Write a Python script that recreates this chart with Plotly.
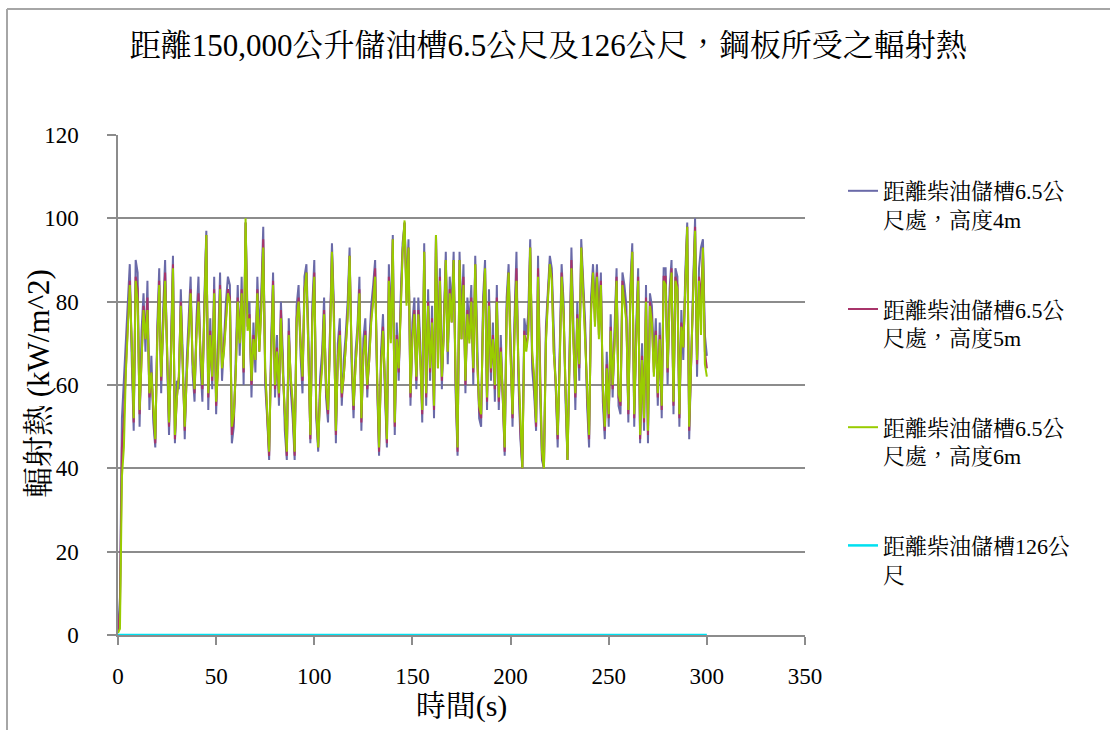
import plotly.graph_objects as go

# Elapsed time (s)
time_s = list(range(0, 301))

# Radiant heat on steel plate (kW/m^2), 6.5 m from tank, height 4 m
heat_4m = [
    0.5, 9, 52, 61, 68, 80, 89, 66, 49, 90,
    87, 50, 73, 82, 68, 85, 54, 67, 51, 45,
    74, 88, 58, 78, 90, 66, 48, 70, 91, 46,
    61, 59, 83, 67, 47, 66, 76, 86, 63, 56,
    76, 86, 65, 56, 81, 97, 54, 76, 59, 86,
    53, 68, 87, 61, 72, 80, 86, 84, 46, 50,
    67, 84, 67, 86, 60, 99, 77, 80, 57, 75,
    63, 86, 72, 82, 98, 60, 52, 42, 70, 87,
    57, 72, 55, 80, 67, 49, 42, 76, 59, 52,
    42, 79, 84, 67, 58, 86, 89, 72, 46, 79,
    90, 52, 44, 62, 68, 81, 57, 51, 73, 94,
    79, 46, 70, 76, 55, 66, 72, 80, 93, 65,
    52, 68, 74, 86, 49, 71, 76, 57, 70, 79,
    84, 90, 60, 43, 68, 77, 58, 45, 89, 74,
    96, 48, 75, 61, 81, 94, 99, 82, 95, 55,
    75, 81, 59, 81, 70, 51, 94, 55, 83, 61,
    79, 52, 96, 68, 88, 59, 76, 92, 65, 86,
    78, 92, 58, 43, 92, 75, 89, 58, 81, 74,
    84, 60, 91, 70, 52, 50, 81, 90, 54, 83,
    61, 75, 56, 84, 54, 72, 55, 43, 81, 89,
    71, 50, 76, 92, 61, 47, 40, 76, 72, 77,
    95, 64, 58, 49, 91, 58, 42, 40, 74, 84,
    91, 88, 72, 57, 45, 68, 89, 80, 56, 42,
    68, 93, 75, 54, 80, 61, 95, 86, 75, 55,
    45, 81, 89, 78, 89, 75, 87, 56, 47, 68,
    50, 77, 57, 74, 88, 55, 53, 87, 84, 79,
    51, 84, 94, 50, 74, 88, 46, 70, 49, 84,
    46, 82, 79, 66, 76, 55, 75, 52, 88, 88,
    60, 83, 90, 53, 88, 86, 50, 78, 66, 87,
    99, 47, 68, 84, 100, 62, 88, 93, 95, 72, 67,
]

# Height 5 m
heat_5m = [
    0.5, 6, 45, 52, 64, 76, 85, 70, 51, 86,
    83, 53, 69, 79, 71, 81, 57, 63, 54, 46,
    71, 85, 61, 75, 87, 69, 50, 67, 89, 47,
    57, 62, 80, 64, 49, 62, 73, 83, 66, 58,
    73, 82, 68, 59, 78, 96, 57, 73, 61, 83,
    55, 65, 84, 64, 69, 77, 83, 81, 48, 52,
    63, 81, 71, 83, 63, 99, 74, 77, 60, 72,
    66, 83, 68, 79, 95, 63, 54, 43, 67, 85,
    59, 69, 57, 78, 63, 51, 43, 73, 61, 55,
    43, 76, 81, 71, 61, 83, 87, 68, 47, 76,
    87, 54, 45, 60, 65, 78, 59, 53, 70, 92,
    76, 48, 67, 73, 57, 62, 69, 77, 91, 68,
    54, 65, 71, 83, 51, 67, 73, 59, 66, 76,
    81, 88, 62, 44, 65, 74, 60, 46, 86, 71,
    95, 50, 72, 63, 78, 92, 99, 80, 93, 57,
    72, 78, 61, 78, 67, 53, 92, 57, 80, 63,
    76, 54, 96, 64, 86, 61, 73, 90, 68, 83,
    75, 90, 61, 44, 90, 71, 86, 60, 78, 71,
    81, 63, 89, 66, 54, 52, 78, 88, 56, 80,
    63, 72, 59, 81, 56, 69, 57, 44, 78, 87,
    68, 52, 73, 88, 64, 49, 40, 73, 69, 73,
    93, 67, 61, 50, 88, 61, 43, 40, 71, 81,
    89, 86, 68, 60, 47, 65, 87, 77, 59, 42,
    65, 90, 71, 57, 77, 64, 93, 83, 72, 58,
    47, 78, 87, 75, 87, 72, 85, 59, 49, 65,
    52, 74, 59, 71, 86, 57, 55, 85, 81, 76,
    53, 81, 92, 52, 71, 86, 47, 67, 51, 81,
    48, 80, 76, 63, 73, 57, 72, 54, 86, 86,
    63, 80, 88, 55, 86, 84, 52, 75, 69, 85,
    98, 49, 65, 81, 98, 65, 86, 80, 93, 68, 64,
]

# Height 6 m
heat_6m = [
    0.5, 1.5, 38, 45, 63, 75, 84, 70, 52, 85,
    80, 54, 68, 78, 71, 78, 58, 63, 55, 47,
    70, 84, 62, 74, 85, 69, 51, 66, 88, 48,
    57, 62, 79, 64, 50, 62, 72, 82, 66, 59,
    72, 80, 68, 60, 77, 96, 58, 72, 62, 82,
    56, 64, 83, 64, 68, 76, 82, 80, 50, 53,
    63, 80, 70, 82, 64, 100, 73, 76, 61, 71,
    66, 82, 68, 78, 93, 64, 55, 44, 66, 84,
    60, 68, 58, 76, 63, 52, 44, 72, 62, 56,
    44, 75, 80, 70, 62, 82, 87, 68, 48, 75,
    86, 55, 45, 58, 64, 77, 60, 54, 69, 92,
    75, 49, 66, 72, 58, 62, 68, 76, 91, 68,
    55, 64, 70, 82, 52, 67, 72, 60, 66, 75,
    80, 86, 63, 45, 64, 73, 61, 47, 85, 70,
    95, 51, 71, 64, 77, 92, 99.5, 79, 93, 58,
    71, 77, 62, 77, 66, 54, 92, 58, 79, 64,
    75, 55, 96, 64, 85, 62, 72, 90, 68, 82,
    75, 90, 62, 45, 90, 71, 84, 61, 77, 70,
    80, 64, 89, 66, 55, 53, 77, 88, 57, 79,
    64, 71, 60, 80, 57, 68, 58, 45, 77, 87,
    67, 53, 72, 85, 65, 50, 40, 72, 68, 72,
    93, 68, 62, 51, 86, 62, 44, 40, 70, 80,
    89, 85, 68, 61, 48, 64, 86, 77, 60, 42,
    64, 88, 71, 58, 76, 65, 93, 82, 71, 59,
    48, 77, 87, 74, 86, 71, 84, 60, 50, 64,
    53, 73, 60, 70, 85, 58, 56, 84, 80, 75,
    54, 80, 92, 53, 70, 85, 48, 66, 52, 80,
    49, 79, 75, 62, 72, 58, 71, 55, 85, 84,
    64, 79, 87, 56, 85, 83, 53, 74, 69, 84,
    98, 50, 64, 80, 97, 66, 85, 72, 93, 65, 62,
]

# 126 m from tank: negligible radiant heat over the whole run
heat_126m = [0.0] * len(time_s)

series_names = [
    "距離柴油儲槽6.5公<br>尺處，高度4m",
    "距離柴油儲槽6.5公<br>尺處，高度5m",
    "距離柴油儲槽6.5公<br>尺處，高度6m",
    "距離柴油儲槽126公<br>尺",
]
series_colors = ["#6A6AA8", "#A8346A", "#99CC00", "#00E0F0"]
series_widths = [2.0, 2.0, 2.0, 2.5]

title_text = "距離150,000公升儲油槽6.5公尺及126公尺，鋼板所受之輻射熱"
x_title = "時間(s)"
y_title = "輻射熱 (kW/m^2)"

W, H = 1110, 730
ML, MR, MT, MB = 118, 305, 135, 95
PW, PH = W - ML - MR, H - MT - MB

SERIF = "Liberation Serif, Noto Serif CJK TC, Noto Sans CJK TC, serif"
GRID = "#8C8C8C"


def px_x(px):
    return (px - ML) / PW


def px_y(py):
    return (H - MB - py) / PH


fig = go.Figure()
for name, ys, color, width in zip(
    series_names, [heat_4m, heat_5m, heat_6m, heat_126m], series_colors, series_widths
):
    fig.add_trace(
        go.Scatter(
            x=time_s,
            y=ys,
            mode="lines",
            name=name,
            legendgroup=name,
            line=dict(color=color, width=width),
        )
    )

fig.update_layout(
    width=W,
    height=H,
    margin=dict(l=ML, r=MR, t=MT, b=MB, autoexpand=False),
    paper_bgcolor="white",
    plot_bgcolor="white",
    title=dict(
        text=title_text,
        x=0.494,
        xanchor="center",
        y=1 - 45 / H,
        yanchor="middle",
        font=dict(family=SERIF, size=31, color="black"),
    ),
    showlegend=True,
    legend=dict(
        x=px_x(843),
        y=px_y(170),
        xanchor="left",
        yanchor="top",
        valign="top",
        tracegroupgap=58,
        font=dict(family=SERIF, size=22, color="black"),
        bgcolor="rgba(0,0,0,0)",
        itemwidth=30,
    ),
    xaxis=dict(
        range=[0, 350],
        dtick=50,
        tick0=0,
        automargin=False,
        showgrid=False,
        zeroline=False,
        showline=True,
        linecolor=GRID,
        linewidth=1.5,
        ticks="outside",
        ticklen=8,
        tickcolor=GRID,
        tickwidth=1.5,
        tickfont=dict(family=SERIF, size=23, color="black"),
        ticklabelstandoff=12,
        title=dict(text=x_title, font=dict(family=SERIF, size=30, color="black"), standoff=6),
    ),
    yaxis=dict(
        range=[0, 120],
        dtick=20,
        tick0=0,
        automargin=False,
        showgrid=True,
        gridcolor=GRID,
        gridwidth=1.5,
        zeroline=False,
        showline=True,
        linecolor=GRID,
        linewidth=1.5,
        ticks="outside",
        ticklen=9,
        tickcolor=GRID,
        tickwidth=1.5,
        tickfont=dict(family=SERIF, size=23, color="black"),
        ticklabelstandoff=24,
    ),
)

# Vertical axis title
fig.add_annotation(
    text=y_title,
    xref="paper", yref="paper",
    x=px_x(38), y=px_y(384),
    xanchor="center", yanchor="middle",
    textangle=-90,
    showarrow=False,
    font=dict(family=SERIF, size=31, color="black"),
)

# Chart frame (top and left edges)
frame = dict(color="#A6A6A6", width=2)
fig.add_shape(type="line", xref="paper", yref="paper",
              x0=px_x(7), x1=px_x(W), y0=px_y(9), y1=px_y(9), line=frame)
fig.add_shape(type="line", xref="paper", yref="paper",
              x0=px_x(7), x1=px_x(7), y0=px_y(9), y1=px_y(H), line=frame)

fig.write_html("out.html")
